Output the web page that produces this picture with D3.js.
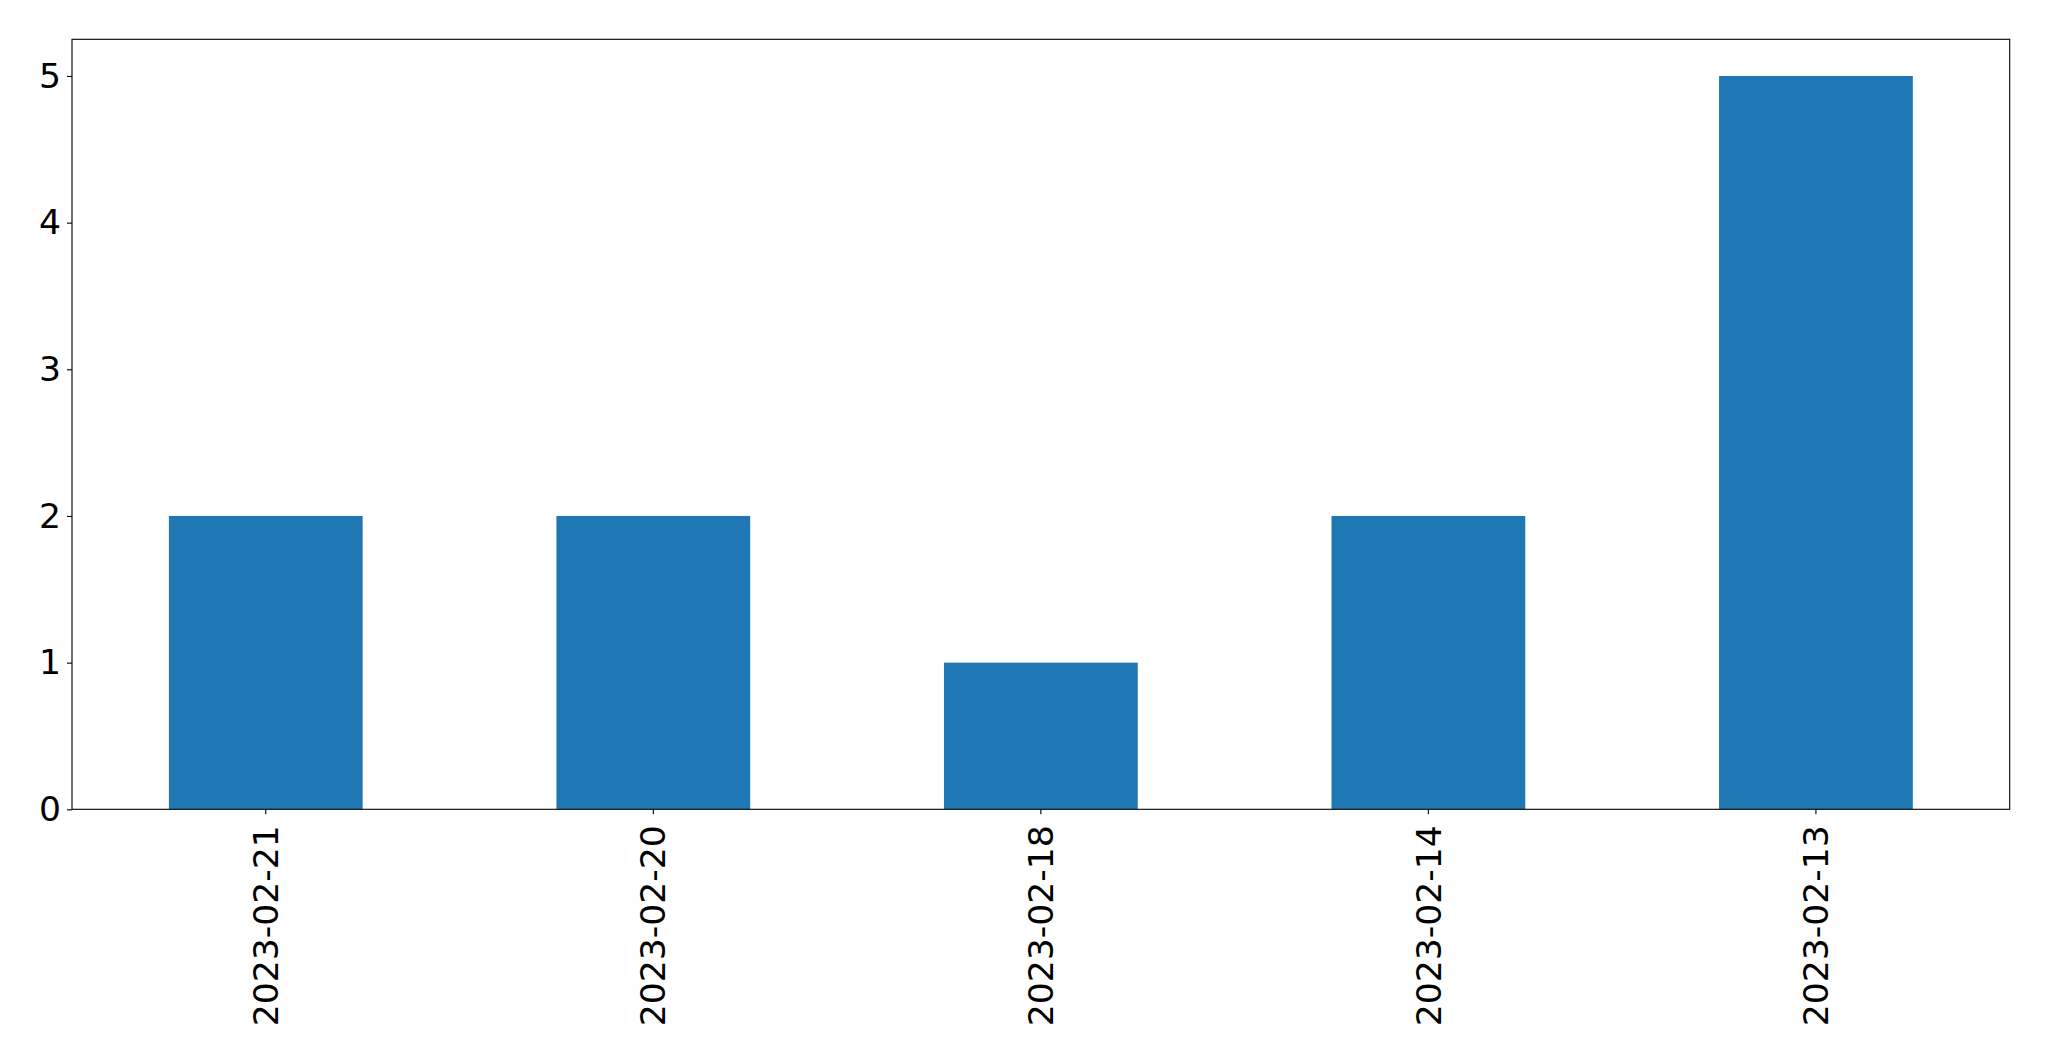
<!DOCTYPE html>
<html><head><meta charset="utf-8">
<script src="https://cdn.jsdelivr.net/npm/d3@7"></script>
<style>body{margin:0;background:#fff}svg{display:block}</style>
</head><body>
<script>
const categories = ["2023-02-21","2023-02-20","2023-02-18","2023-02-14","2023-02-13"];
const values = [2,2,1,2,5];
const yTicks = [0,1,2,3,4,5];

const W=2049,H=1061;
const m={left:72,top:39.3,right:2049-2009.7,bottom:1061-809.3};
const svg=d3.select("body").append("svg").attr("width",W).attr("height",H);
const x=d3.scaleBand().domain(categories).range([m.left,W-m.right]).paddingInner(0.5).paddingOuter(0.25);
const y=d3.scaleLinear().domain([0,5.25]).range([H-m.bottom,m.top]);

svg.selectAll("rect.bar").data(values).join("rect").attr("class","bar")
  .attr("x",(d,i)=>x(categories[i])).attr("width",x.bandwidth())
  .attr("y",d=>y(d)).attr("height",d=>y(0)-y(d)).attr("fill","#1f77b4");

const font="DejaVu Sans";
const fs=34.6;
const xa=svg.append("g").attr("transform",`translate(0,${H-m.bottom})`)
  .call(d3.axisBottom(x).tickSize(5).tickSizeOuter(0).tickPadding(6));
xa.select(".domain").remove();
xa.selectAll("line").attr("stroke","#000").attr("stroke-width",1.1);
xa.selectAll("text").attr("font-family",font).attr("font-size",fs).attr("fill","#000")
  .attr("transform","rotate(-90)").attr("text-anchor","end").attr("dy","0.35em").attr("x",-16).attr("y",0);

const ya=svg.append("g").attr("transform",`translate(${m.left},0)`)
  .call(d3.axisLeft(y).tickValues(yTicks).tickFormat(d3.format("d")).tickSize(5).tickPadding(6));
ya.select(".domain").remove();
ya.selectAll("line").attr("stroke","#000").attr("stroke-width",1.1);
ya.selectAll("text").attr("font-family",font).attr("font-size",fs).attr("fill","#000");

svg.append("rect").attr("x",m.left).attr("y",m.top).attr("width",W-m.right-m.left).attr("height",H-m.bottom-m.top)
  .attr("fill","none").attr("stroke","#000").attr("stroke-width",1.1);
</script>
</body></html>
